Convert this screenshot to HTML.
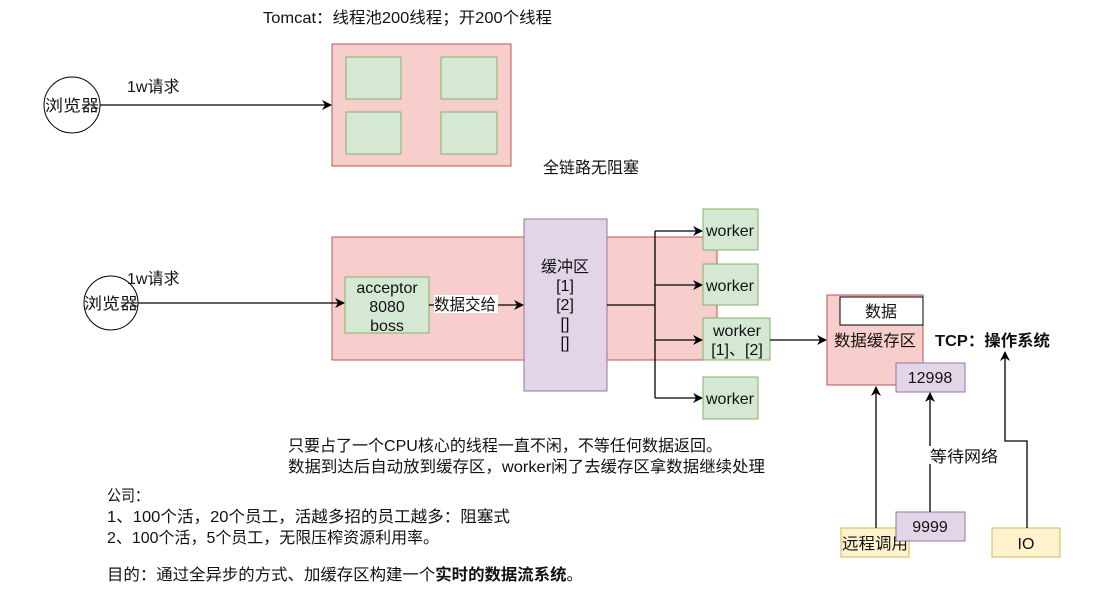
<!DOCTYPE html>
<html><head><meta charset="utf-8"><style>
html,body{margin:0;padding:0;background:#fff;}
svg text{font-family:"Liberation Sans","Noto Sans CJK SC",sans-serif;font-size:16px;fill:#111;}
</style></head><body>
<svg width="1105" height="594" viewBox="0 0 1105 594" xmlns="http://www.w3.org/2000/svg">
<defs><marker id="a" markerWidth="10" markerHeight="10" refX="9" refY="5" orient="auto" markerUnits="userSpaceOnUse"><path d="M0,0 L10,5 L0,10 L3,5 z" fill="#000"/></marker></defs>

<text x="263" y="23" textLength="289" lengthAdjust="spacingAndGlyphs">Tomcat：线程池200线程；开200个线程</text>
<rect x="332" y="44" width="179" height="122" fill="#f8cecc" stroke="#b85450"/>
<rect x="346" y="57" width="55" height="42" fill="#d5e8d4" stroke="#82b366"/>
<rect x="441" y="57" width="56" height="42" fill="#d5e8d4" stroke="#82b366"/>
<rect x="346" y="112" width="55" height="42" fill="#d5e8d4" stroke="#82b366"/>
<rect x="441" y="112" width="56" height="42" fill="#d5e8d4" stroke="#82b366"/>
<circle cx="72" cy="105" r="28" fill="#fff" stroke="#000"/>
<text x="72" y="111" text-anchor="middle" textLength="54" lengthAdjust="spacingAndGlyphs">浏览器</text>
<text x="127" y="92">1w请求</text>
<line x1="100" y1="105" x2="331" y2="105" stroke="#000" stroke-width="1.3" marker-end="url(#a)"/>
<text x="543" y="173">全链路无阻塞</text>

<rect x="332" y="237" width="385" height="123" fill="#f8cecc" stroke="#b85450"/>
<circle cx="111" cy="303" r="27" fill="#fff" stroke="#000"/>
<text x="111" y="309" text-anchor="middle" textLength="54" lengthAdjust="spacingAndGlyphs">浏览器</text>
<text x="127" y="284">1w请求</text>
<line x1="138" y1="303" x2="344" y2="303" stroke="#000" stroke-width="1.3" marker-end="url(#a)"/>
<rect x="345" y="277" width="84" height="56" fill="#d5e8d4" stroke="#82b366"/>
<text x="387" y="293" text-anchor="middle">acceptor</text>
<text x="387" y="312" text-anchor="middle">8080</text>
<text x="387" y="331" text-anchor="middle">boss</text>
<line x1="429" y1="305" x2="523" y2="305" stroke="#000" stroke-width="1.3" marker-end="url(#a)"/>
<rect x="434" y="295" width="64" height="18" fill="#fff"/>
<text x="434" y="310" textLength="62" lengthAdjust="spacingAndGlyphs">数据交给</text>
<rect x="524" y="219" width="83" height="172" fill="#e1d5e7" stroke="#9673a6"/>
<text x="565" y="272" text-anchor="middle">缓冲区</text>
<text x="565" y="291" text-anchor="middle">[1]</text>
<text x="565" y="310" text-anchor="middle">[2]</text>
<text x="565" y="329" text-anchor="middle">[]</text>
<text x="565" y="348" text-anchor="middle">[]</text>
<g stroke="#000" stroke-width="1.3" fill="none">
<line x1="607" y1="305" x2="655" y2="305"/>
<line x1="655" y1="231" x2="655" y2="398"/>
<line x1="655" y1="231" x2="702" y2="231" marker-end="url(#a)"/>
<line x1="655" y1="285" x2="702" y2="285" marker-end="url(#a)"/>
<line x1="655" y1="340" x2="702" y2="340" marker-end="url(#a)"/>
<line x1="655" y1="398" x2="702" y2="398" marker-end="url(#a)"/>
</g>
<rect x="703" y="209" width="55" height="41" fill="#d5e8d4" stroke="#82b366"/>
<text x="730" y="236" text-anchor="middle">worker</text>
<rect x="703" y="264" width="55" height="41" fill="#d5e8d4" stroke="#82b366"/>
<text x="730" y="291" text-anchor="middle">worker</text>
<rect x="703" y="318" width="67" height="42" fill="#d5e8d4" stroke="#82b366"/>
<text x="737" y="336" text-anchor="middle">worker</text>
<text x="737" y="355" text-anchor="middle">[1]、[2]</text>
<rect x="703" y="377" width="55" height="42" fill="#d5e8d4" stroke="#82b366"/>
<text x="730" y="404" text-anchor="middle">worker</text>
<line x1="770" y1="340" x2="826" y2="340" stroke="#000" stroke-width="1.3" marker-end="url(#a)"/>

<rect x="827" y="295" width="96" height="90" fill="#f8cecc" stroke="#b85450"/>
<rect x="840" y="297" width="83" height="28" fill="#fff" stroke="#000"/>
<text x="881" y="317" text-anchor="middle">数据</text>
<text x="875" y="346" text-anchor="middle" textLength="82" lengthAdjust="spacingAndGlyphs">数据缓存区</text>
<text x="935" y="346" style="font-weight:bold" textLength="115" lengthAdjust="spacingAndGlyphs">TCP：操作系统</text>
<rect x="896" y="363" width="69" height="29" fill="#e1d5e7" stroke="#9673a6"/>
<text x="930" y="383" text-anchor="middle">12998</text>
<rect x="841" y="528" width="68" height="29" fill="#fff2cc" stroke="#d6b656"/>
<text x="875" y="549" text-anchor="middle" textLength="66" lengthAdjust="spacingAndGlyphs">远程调用</text>
<rect x="896" y="512" width="69" height="29" fill="#e1d5e7" stroke="#9673a6"/>
<text x="930" y="532" text-anchor="middle">9999</text>
<rect x="992" y="528" width="68" height="29" fill="#fff2cc" stroke="#d6b656"/>
<text x="1026" y="549" text-anchor="middle">IO</text>
<g stroke="#000" stroke-width="1.3" fill="none">
<line x1="876" y1="528" x2="876" y2="387" marker-end="url(#a)"/>
<line x1="930" y1="512" x2="930" y2="393" marker-end="url(#a)"/>
<polyline points="1027,528 1027,441 1005,441 1005,352" marker-end="url(#a)"/>
</g>
<rect x="928" y="446" width="72" height="18" fill="#fff"/>
<text x="930" y="462" textLength="68" lengthAdjust="spacingAndGlyphs">等待网络</text>

<text x="288" y="451" textLength="434" lengthAdjust="spacingAndGlyphs">只要占了一个CPU核心的线程一直不闲，不等任何数据返回。</text>
<text x="288" y="472" textLength="477" lengthAdjust="spacingAndGlyphs">数据到达后自动放到缓存区，worker闲了去缓存区拿数据继续处理</text>
<text x="107" y="501" textLength="42" lengthAdjust="spacingAndGlyphs">公司：</text>
<text x="107" y="522" textLength="403" lengthAdjust="spacingAndGlyphs">1、100个活，20个员工，活越多招的员工越多：阻塞式</text>
<text x="107" y="543" textLength="332" lengthAdjust="spacingAndGlyphs">2、100个活，5个员工，无限压榨资源利用率。</text>
<text x="107" y="580" textLength="476" lengthAdjust="spacingAndGlyphs">目的：通过全异步的方式、加缓存区构建一个<tspan style="font-weight:bold">实时的数据流系统</tspan>。</text>
</svg>
</body></html>
